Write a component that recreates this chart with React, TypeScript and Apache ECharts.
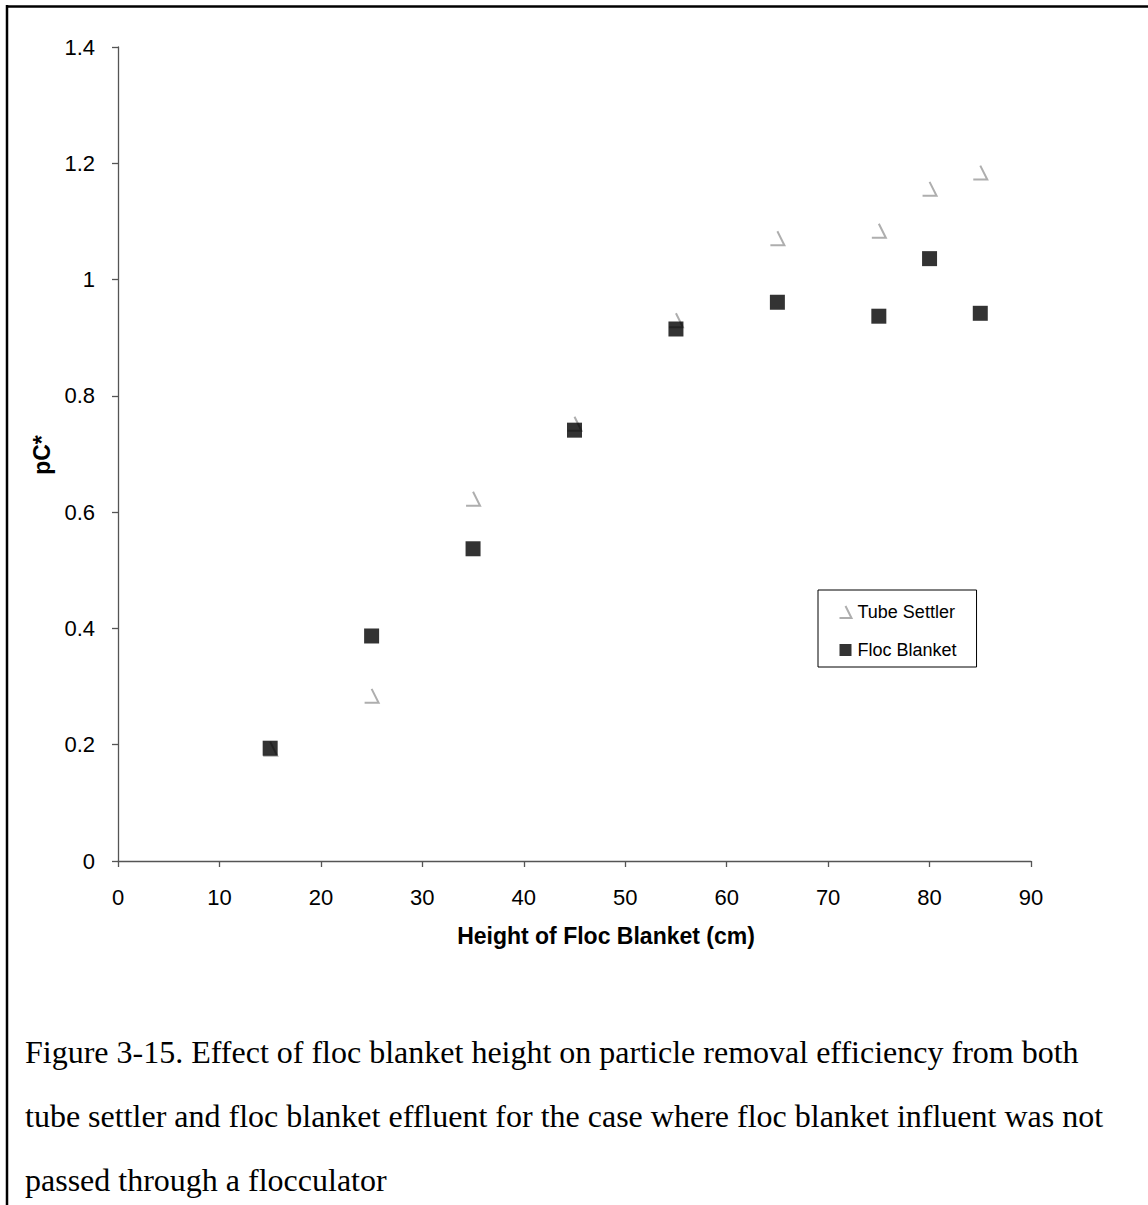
import React, { useEffect, useRef } from "react";
import * as echarts from "echarts";

const heights = [15, 25, 35, 45, 55, 65, 75, 80, 85];
const tubeSettler = [0.193, 0.284, 0.623, 0.752, 0.93, 1.071, 1.084, 1.156, 1.184];
const flocBlanket = [0.194, 0.387, 0.537, 0.741, 0.915, 0.961, 0.937, 1.036, 0.942];
const seriesNames = ["Tube Settler", "Floc Blanket"];
const xTitle = "Height of Floc Blanket (cm)";
const yTitle = "pC*";
const captionLines = [
  "Figure 3-15. Effect of floc blanket height on particle removal efficiency from both",
  "tube settler and floc blanket effluent for the case where floc blanket influent was not",
  "passed through a flocculator",
];

const SANS = "Liberation Sans, Arial, sans-serif";
const SERIF = "Liberation Serif, Times New Roman, serif";

export default function App() {
  const ref = useRef<HTMLDivElement>(null);
  useEffect(() => {
    document.body.style.margin = "0";
    const chart = echarts.init(ref.current!, null, { renderer: "svg" });
    const axisColor = "#555";
    chart.setOption({
      animation: false,
      backgroundColor: "#fff",
      grid: { left: 118, top: 47, width: 913, height: 814, containLabel: false },
      xAxis: {
        type: "value",
        min: 0,
        max: 90,
        interval: 10,
        axisLine: { show: true, lineStyle: { color: axisColor, width: 1.3 } },
        axisTick: { show: true, inside: false, length: 6, lineStyle: { color: axisColor, width: 1.3 } },
        splitLine: { show: false },
        axisLabel: { fontSize: 22, color: "#000", fontFamily: SANS, margin: 25 },
      },
      yAxis: {
        type: "value",
        min: 0,
        max: 1.4,
        interval: 0.2,
        axisLine: { show: true, lineStyle: { color: axisColor, width: 1.3 } },
        axisTick: { show: true, inside: false, length: 6, lineStyle: { color: axisColor, width: 1.3 } },
        splitLine: { show: false },
        axisLabel: {
          fontSize: 22,
          color: "#000",
          fontFamily: SANS,
          margin: 23,
          formatter: (v: number) => String(Math.round(v * 10) / 10),
        },
      },
      legend: {
        orient: "vertical",
        left: 818,
        top: 590,
        padding: [13, 20, 8, 19],
        itemGap: 20,
        itemWidth: 12,
        itemHeight: 12,
        borderColor: "#000",
        borderWidth: 1,
        textStyle: { fontSize: 18, fontFamily: SANS, color: "#000", padding: [0, 0, 0, 1] },
        data: seriesNames,
      },
      series: [
        {
          name: seriesNames[0],
          type: "scatter",
          symbol: "path://M7,0L14,14L0,14",
          symbolSize: 14,
          itemStyle: { color: "none", borderColor: "#9a9a9a", borderWidth: 2 },
          data: heights.map((h, i) => [h, tubeSettler[i]]),
          z: 2,
        },
        {
          name: seriesNames[1],
          type: "scatter",
          symbol: "rect",
          symbolSize: 15,
          itemStyle: { color: "#000" },
          data: heights.map((h, i) => [h, flocBlanket[i]]),
          z: 3,
        },
      ],
      graphic: [
        {
          type: "line",
          shape: { x1: 6, y1: 6.5, x2: 1148, y2: 6.5 },
          style: { stroke: "#000", lineWidth: 2.5 },
        },
        {
          type: "line",
          shape: { x1: 7, y1: 5, x2: 7, y2: 1205 },
          style: { stroke: "#000", lineWidth: 2.5 },
        },
        {
          type: "text",
          x: 606,
          y: 936,
          style: {
            text: xTitle,
            fontSize: 23,
            fontWeight: "bold",
            fontFamily: SANS,
            fill: "#000",
            align: "center",
            verticalAlign: "middle",
          },
        },
        {
          type: "text",
          x: 42,
          y: 455,
          rotation: Math.PI / 2,
          style: {
            text: yTitle,
            fontSize: 23,
            fontWeight: "bold",
            fontFamily: SANS,
            fill: "#000",
            align: "center",
            verticalAlign: "middle",
          },
        },
        ...captionLines.map((line, i) => ({
          type: "text",
          x: 25,
          y: 1052 + i * 64,
          style: {
            text: line,
            fontSize: 32,
            fontFamily: SERIF,
            fill: "#000",
            align: "left",
            verticalAlign: "middle",
          },
        })),
      ],
    });
    return () => chart.dispose();
  }, []);
  return <div ref={ref} style={{ width: 1148, height: 1205 }} />;
}
